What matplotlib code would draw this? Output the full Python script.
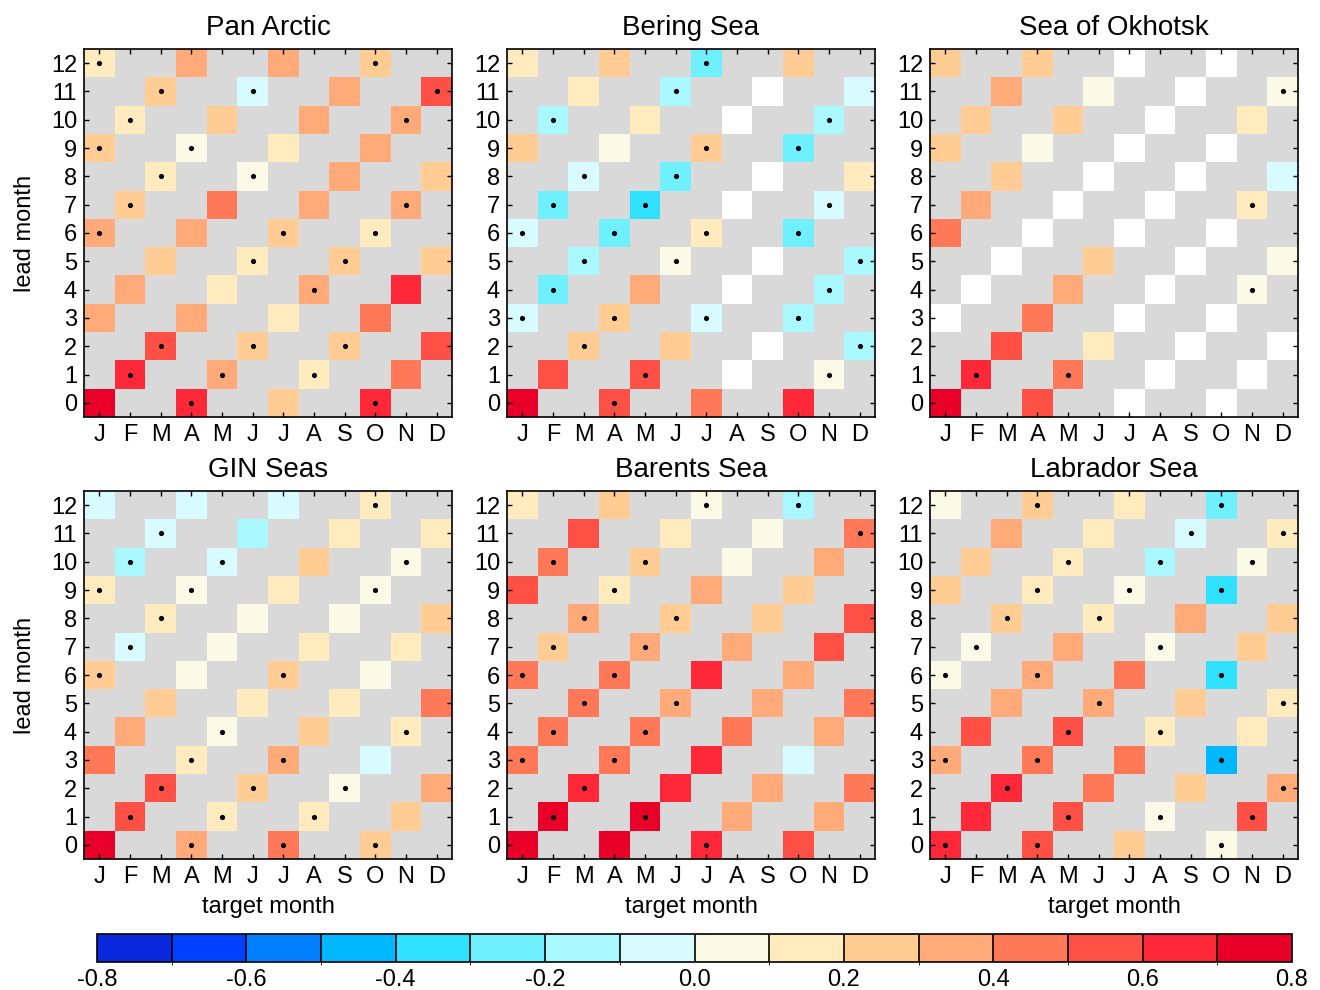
import numpy as np
import matplotlib.pyplot as plt
import matplotlib as mpl
from matplotlib.colors import ListedColormap, BoundaryNorm

plt.rcParams['font.family'] = ['Liberation Sans', 'DejaVu Sans']

nan = np.nan
months = ['J', 'F', 'M', 'A', 'M', 'J', 'J', 'A', 'S', 'O', 'N', 'D']
leads = list(range(13))
regions = ['Pan Arctic', 'Bering Sea', 'Sea of Okhotsk',
           'GIN Seas', 'Barents Sea', 'Labrador Sea']

# one row per lead month (0..12), the 4 values are the coloured target months
# of that row, left to right (target month index = lead % 3 + 3k); nan = no data
pan_arctic = [
    [0.75, 0.65, 0.25, 0.65], [0.65, 0.35, 0.15, 0.45], [0.55, 0.25, 0.25, 0.55],
    [0.35, 0.35, 0.15, 0.45], [0.35, 0.15, 0.35, 0.65], [0.25, 0.15, 0.25, 0.25],
    [0.35, 0.35, 0.25, 0.15], [0.25, 0.45, 0.35, 0.35], [0.15, 0.05, 0.35, 0.25],
    [0.25, 0.05, 0.15, 0.35], [0.15, 0.25, 0.35, 0.35], [0.25, -0.05, 0.35, 0.55],
    [0.15, 0.35, 0.35, 0.25]]
pan_arctic_dots = [
    [0, 1, 0, 1], [1, 1, 1, 0], [1, 1, 1, 0], [0, 0, 0, 0], [0, 0, 1, 0],
    [0, 1, 1, 0], [1, 0, 1, 1], [1, 0, 0, 1], [1, 1, 0, 0], [1, 1, 0, 0],
    [1, 0, 0, 1], [1, 1, 0, 1], [1, 0, 0, 1]]

bering = [
    [0.75, 0.55, 0.45, 0.65], [0.55, 0.55, nan, 0.05], [0.25, 0.25, nan, -0.15],
    [-0.05, 0.25, -0.05, -0.15], [-0.25, 0.35, nan, -0.15], [-0.15, 0.05, nan, -0.15],
    [-0.05, -0.25, 0.15, -0.25], [-0.25, -0.35, nan, -0.05], [-0.05, -0.25, nan, 0.15],
    [0.25, 0.05, 0.25, -0.25], [-0.15, 0.15, nan, -0.15], [0.15, -0.15, nan, -0.05],
    [0.15, 0.25, -0.25, 0.25]]
bering_dots = [
    [0, 1, 0, 0], [0, 1, 0, 1], [1, 0, 0, 1], [1, 1, 1, 1], [1, 0, 0, 1],
    [1, 1, 0, 1], [1, 1, 1, 1], [1, 1, 0, 1], [1, 1, 0, 0], [0, 0, 1, 1],
    [1, 0, 0, 1], [0, 1, 0, 0], [0, 0, 1, 0]]

okhotsk = [
    [0.75, 0.55, nan, nan], [0.65, 0.45, nan, nan], [0.55, 0.15, nan, nan],
    [nan, 0.45, nan, nan], [nan, 0.35, nan, 0.05], [nan, 0.25, nan, 0.05],
    [0.45, nan, nan, nan], [0.35, nan, nan, 0.15], [0.25, nan, nan, -0.05],
    [0.25, 0.05, nan, nan], [0.25, 0.25, nan, 0.15], [0.35, 0.05, nan, 0.05],
    [0.25, 0.25, nan, nan]]
okhotsk_dots = [
    [0, 0, 0, 0], [1, 1, 0, 0], [0, 0, 0, 0], [0, 0, 0, 0], [0, 0, 0, 1],
    [0, 0, 0, 0], [0, 0, 0, 0], [0, 0, 0, 1], [0, 0, 0, 0], [0, 0, 0, 0],
    [0, 0, 0, 0], [0, 0, 0, 1], [0, 0, 0, 0]]

gin = [
    [0.75, 0.35, 0.45, 0.25], [0.55, 0.15, 0.15, 0.25], [0.55, 0.25, 0.05, 0.35],
    [0.45, 0.15, 0.35, -0.05], [0.35, 0.05, 0.25, 0.15], [0.25, 0.15, 0.15, 0.45],
    [0.25, 0.05, 0.25, 0.05], [-0.05, 0.05, 0.15, 0.15], [0.15, 0.05, 0.05, 0.25],
    [0.15, 0.05, 0.15, 0.05], [-0.15, -0.05, 0.25, 0.05], [-0.05, -0.15, 0.15, 0.15],
    [-0.05, -0.05, -0.05, 0.15]]
gin_dots = [
    [0, 1, 1, 1], [1, 1, 1, 0], [1, 1, 1, 0], [0, 1, 1, 0], [0, 1, 0, 1],
    [0, 0, 0, 0], [1, 0, 1, 0], [1, 0, 0, 0], [1, 0, 0, 0], [1, 1, 0, 1],
    [1, 1, 0, 1], [1, 0, 0, 0], [0, 0, 0, 1]]

barents = [
    [0.75, 0.75, 0.65, 0.55], [0.75, 0.75, 0.35, 0.35], [0.65, 0.65, 0.35, 0.45],
    [0.45, 0.45, 0.65, -0.05], [0.45, 0.45, 0.45, 0.35], [0.45, 0.35, 0.35, 0.45],
    [0.45, 0.45, 0.65, 0.35], [0.25, 0.35, 0.35, 0.55], [0.35, 0.25, 0.25, 0.55],
    [0.55, 0.15, 0.35, 0.25], [0.45, 0.25, 0.05, 0.35], [0.55, 0.15, 0.05, 0.45],
    [0.15, 0.25, 0.05, -0.15]]
barents_dots = [
    [0, 0, 1, 0], [1, 1, 0, 0], [1, 0, 0, 0], [1, 1, 0, 0], [1, 1, 0, 0],
    [1, 1, 0, 0], [1, 1, 0, 0], [1, 1, 0, 0], [1, 1, 0, 0], [0, 1, 0, 0],
    [1, 1, 0, 0], [0, 0, 0, 1], [0, 0, 1, 1]]

labrador = [
    [0.65, 0.55, 0.25, 0.05], [0.65, 0.55, 0.05, 0.55], [0.65, 0.45, 0.25, 0.35],
    [0.35, 0.45, 0.45, -0.45], [0.55, 0.55, 0.15, 0.15], [0.35, 0.35, 0.25, 0.15],
    [0.05, 0.35, 0.45, -0.35], [0.05, 0.35, 0.05, 0.25], [0.25, 0.15, 0.35, 0.25],
    [0.25, 0.15, 0.05, -0.35], [0.25, 0.15, -0.15, 0.05], [0.35, 0.15, -0.05, 0.15],
    [0.05, 0.25, 0.15, -0.25]]
labrador_dots = [
    [1, 1, 0, 1], [0, 1, 1, 1], [1, 0, 0, 1], [1, 1, 0, 1], [0, 1, 1, 0],
    [0, 1, 0, 1], [1, 1, 0, 1], [1, 0, 1, 0], [1, 1, 0, 0], [0, 1, 1, 1],
    [0, 1, 1, 1], [0, 0, 1, 1], [0, 1, 0, 1]]

panel_values = [pan_arctic, bering, okhotsk, gin, barents, labrador]
panel_dots = [pan_arctic_dots, bering_dots, okhotsk_dots,
              gin_dots, barents_dots, labrador_dots]

levels = np.arange(-8, 9) / 10
cb_ticks = np.arange(-8, 9, 2) / 10
colors = ['#0a28dc', '#0040ff', '#0080ff', '#00b8ff', '#30e0ff', '#6ef0ff',
          '#aaf8ff', '#d8fbff', '#fafae6', '#ffebbe', '#ffcc94', '#ffaa78',
          '#ff7858', '#ff5046', '#ff2838', '#e80028']
cmap = ListedColormap(colors)
norm = BoundaryNorm(levels, cmap.N)


def to_grid(vals, dots):
    grid = np.full((13, 12), nan)
    used = np.zeros((13, 12), bool)
    dx, dy = [], []
    for lead in leads:
        for k in range(4):
            c = lead % 3 + 3 * k
            used[lead, c] = True
            grid[lead, c] = vals[lead][k]
            if dots[lead][k]:
                dx.append(c)
                dy.append(lead)
    return grid, used, dx, dy


fig = plt.figure(figsize=(13.2, 9.9), dpi=100)
W, H = 1320, 990
lefts = [84, 507, 930]
tops = [49, 491]
size = 368

for i, name in enumerate(regions):
    r, c = divmod(i, 3)
    ax = fig.add_axes([lefts[c] / W, 1 - (tops[r] + size) / H, size / W, size / H])
    ax.set_facecolor('#d9d9d9')
    grid, used, dx, dy = to_grid(panel_values[i], panel_dots[i])
    xe = np.arange(13) - 0.5
    ye = np.arange(14) - 0.5
    ax.pcolormesh(xe, ye, np.ma.masked_where(~used, np.ones_like(grid)),
                  cmap=ListedColormap(['white']), edgecolors='none')
    ax.pcolormesh(xe, ye, np.ma.masked_invalid(grid), cmap=cmap, norm=norm,
                  edgecolors='none')
    ax.scatter(dx, dy, s=14, color='black', zorder=3, linewidths=0)
    ax.set_xlim(-0.5, 11.5)
    ax.set_ylim(-0.5, 12.5)
    ax.set_xticks(range(12))
    ax.set_xticklabels(months)
    ax.set_yticks(leads)
    ax.tick_params(direction='in', length=3.5, width=1, top=True, right=True,
                   labelsize=17, pad=5)
    for sp in ax.spines.values():
        sp.set_linewidth(1.2)
    ax.set_title(name, fontsize=20, pad=10)
    if c == 0:
        ax.set_ylabel('lead month', fontsize=17, labelpad=11)
    if r == 1:
        ax.set_xlabel('target month', fontsize=17, labelpad=6)

cax = fig.add_axes([97 / W, 1 - 962 / H, 1195 / W, 28 / H])
cb = fig.colorbar(mpl.cm.ScalarMappable(norm=norm, cmap=cmap), cax=cax,
                  orientation='horizontal', drawedges=True, ticks=cb_ticks)
cb.ax.set_xticklabels([f'{t:.1f}' for t in cb_ticks])
cb.ax.tick_params(length=0, labelsize=17, pad=5)
cb.outline.set_linewidth(1.2)
cb.dividers.set_color('black')
cb.dividers.set_linewidth(1.2)

fig.savefig('out.png', dpi=100)
